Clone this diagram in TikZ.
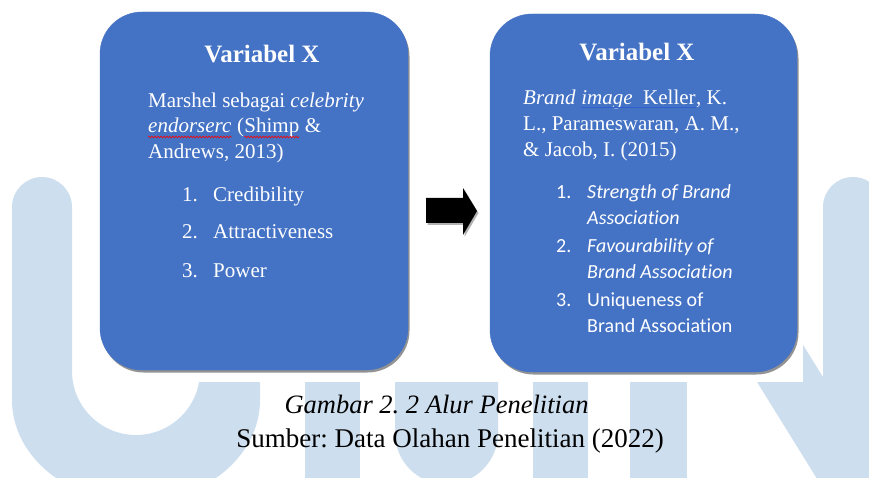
\documentclass[tikz,border=0pt]{standalone}
\usepackage{fontspec}
\setmainfont{Liberation Serif}
\newfontfamily\calibrifont[Ligatures=NoCommon]{Carlito}
\usetikzlibrary{shadows,decorations.pathmorphing}
\definecolor{boxblue}{HTML}{4472C4}
\definecolor{markblue}{HTML}{CDDEEE}
\definecolor{gramblue}{HTML}{3060D0}
\frenchspacing

\begin{document}
\begin{tikzpicture}[x=1pt,y=1pt,
	varbox/.style={rounded corners=42pt, fill=boxblue, draw=boxblue, minimum width=308pt, minimum height=358pt, drop shadow={shadow xshift=1.5pt, shadow yshift=-2.5pt, fill=black!60, opacity=.7}},
	vartitle/.style={text=white, font=\fontsize{25}{30}\selectfont\bfseries, anchor=base, inner sep=0pt},
	reftext/.style={text=white, font=\fontsize{21}{26}\selectfont, anchor=base west, inner sep=0pt},
	itemtext/.style={text=white, font=\fontsize{20}{24}\selectfont\calibrifont, anchor=base west, inner sep=0pt},
	captext/.style={font=\fontsize{27}{32}\selectfont, anchor=base, inner sep=0pt},
	spellwave/.style={red, line width=.6pt, decorate, decoration={snake, segment length=3pt, amplitude=.9pt}},
	grammarline/.style={gramblue, line width=.8pt}]
	\useasboundingbox (0,0) rectangle (869,477);
	\clip (0,0) rectangle (869,477);
	\fill[markblue] (12,270) -- (12,77) arc[start angle=180, end angle=360, x radius=124, y radius=102] -- (260,300) -- (200,300) -- (200,106) arc[start angle=0, end angle=-180, radius=64] -- (72,270) arc[start angle=0, end angle=180, radius=30] -- cycle;
	\fill[markblue] (305,-5) rectangle (360,200);
	\fill[markblue] (395,200) -- (395,44) arc[start angle=180, end angle=360, radius=51.5] -- (498,200) -- cycle;
	\fill[markblue] (533,-5) rectangle (588,200);
	\fill[markblue] (630,-5) rectangle (687,300);
	\fill[markblue] (630,300) -- (699,300) -- (888,-5) -- (819,-5) -- cycle;
	\fill[markblue] (823,-5) -- (823,270) arc[start angle=180, end angle=0, radius=30] -- (883,-5) -- cycle;
	\fill[white] (75,95) rectangle (803,477);
	\node[varbox] (endorser) at (254,286) {};
	\node[varbox, minimum width=307pt] (image) at (643.5,284) {};
	\node[vartitle] (endorserTitle) at (262,414) {Variabel X};
	\node[reftext] (endorserA) at (148,369) {Marshel sebagai \textit{celebrity}};
	\node[reftext] (endorserWord) at (148,344) {\textit{endorserc}};
	\node[reftext] (parenL) at (endorserWord.base east) {\ (};
	\node[reftext] (shimpWord) at (parenL.base east) {Shimp};
	\node[reftext] (ampEnd) at (shimpWord.base east) {\ \&};
	\draw[spellwave] ([yshift=-4pt]endorserWord.base west) -- ([yshift=-4pt]endorserWord.base east);
	\draw[spellwave] ([yshift=-4pt]shimpWord.base west) -- ([yshift=-4pt]shimpWord.base east);
	\node[reftext] (endorserC) at (148,318) {Andrews, 2013)};
	\node[reftext] (credNum) at (182,275) {1.};
	\node[reftext] (cred) at (213,275) {Credibility};
	\node[reftext] (attrNum) at (182,238) {2.};
	\node[reftext] (attr) at (213,238) {Attractiveness};
	\node[reftext] (powerNum) at (182,200) {3.};
	\node[reftext] (power) at (213,200) {Power};
	\node[vartitle] (imageTitle) at (637,416) {Variabel X};
	\node[reftext] (brandWord) at (523,372) {\textit{Brand}\ \mbox{}};
	\node[reftext] (imageWord) at (brandWord.base east) {\textit{image}\ \ Keller};
	\node[reftext] (kellerEnd) at (imageWord.base east) {, K.};
	\draw[grammarline] ([yshift=-2pt]imageWord.base west) -- ([yshift=-2pt]imageWord.base east);
	\node[reftext] (imageB) at (523,346) {L., Parameswaran, A. M.,};
	\node[reftext] (imageC) at (523,320) {\& Jacob, I. (2015)};
	\node[itemtext] (strengthNum) at (556,278) {1.};
	\node[itemtext] (strengthA) at (587,278) {\textit{Strength of Brand}};
	\node[itemtext] (strengthB) at (587,252) {\textit{Association}};
	\node[itemtext] (favourNum) at (556,225) {2.};
	\node[itemtext] (favourA) at (587,225) {\textit{Favourability of}};
	\node[itemtext] (favourB) at (587,199) {\textit{Brand Association}};
	\node[itemtext] (uniqueNum) at (556,171) {3.};
	\node[itemtext] (uniqueA) at (587,171) {Uniqueness of};
	\node[itemtext] (uniqueB) at (587,145) {Brand Association};
	\fill[black, drop shadow={shadow xshift=1.5pt, shadow yshift=-2pt, fill=black!50, opacity=.6}] (426,279) -- (463,279) -- (463,289) -- (477,266) -- (463,242) -- (463,254) -- (426,254) -- cycle;
	\node[captext, font=\fontsize{26.5}{32}\selectfont\itshape] (caption) at (436.5,64) {Gambar 2. 2 Alur Penelitian};
	\node[captext] (source) at (450,30) {Sumber: Data Olahan Penelitian (2022)};
\end{tikzpicture}
\end{document}
